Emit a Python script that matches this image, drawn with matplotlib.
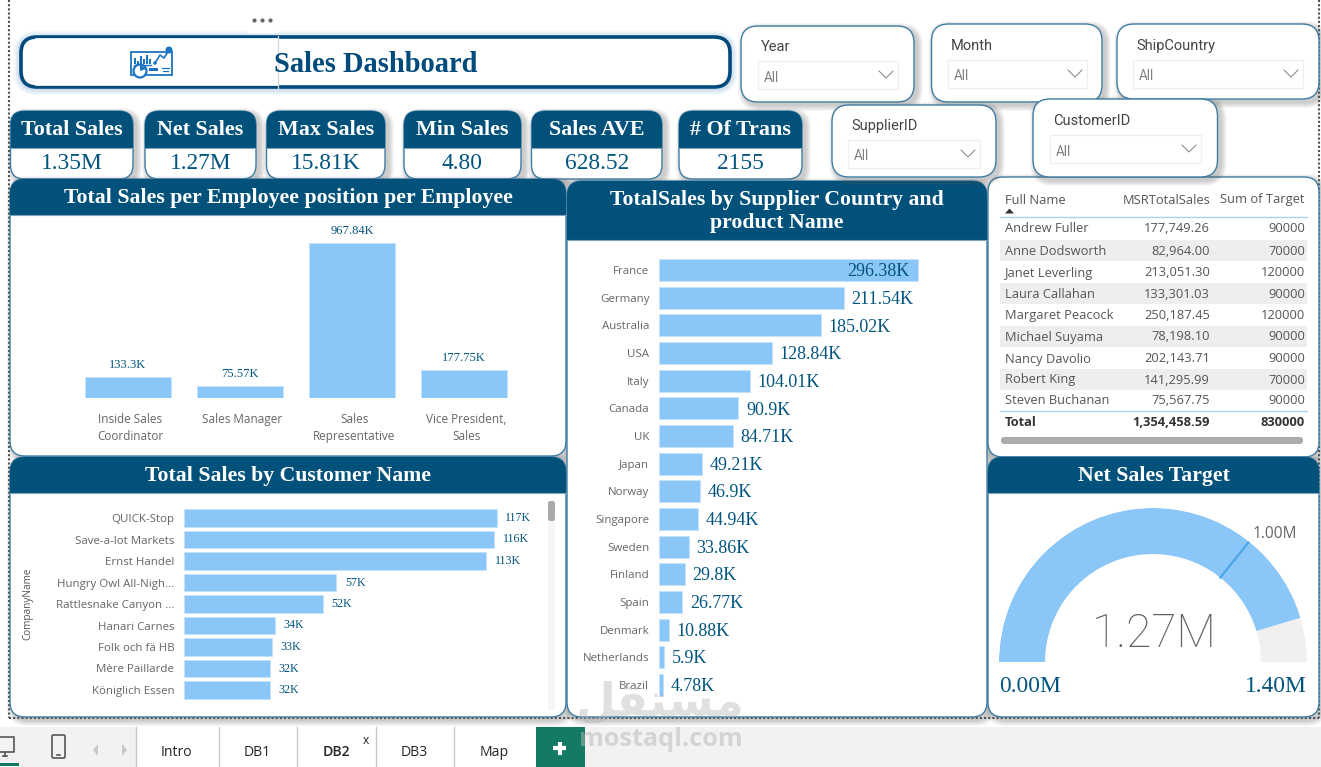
import numpy as np
import matplotlib
matplotlib.use('Agg')
import matplotlib.pyplot as plt
from matplotlib.patches import FancyBboxPatch, Rectangle, Circle, Polygon
from matplotlib.transforms import ScaledTranslation

W, H = 1321, 767

# employee position chart
positions = ['Inside Sales\nCoordinator', 'Sales Manager', 'Sales\nRepresentative', 'Vice President,\nSales']
position_sales = [133.3, 75.57, 967.84, 177.75]
position_labels = ['133.3K', '75.57K', '967.84K', '177.75K']

# supplier country chart
countries = ['France', 'Germany', 'Australia', 'USA', 'Italy', 'Canada', 'UK', 'Japan', 'Norway',
             'Singapore', 'Sweden', 'Finland', 'Spain', 'Denmark', 'Netherlands', 'Brazil']
country_sales = [296.38, 211.54, 185.02, 128.84, 104.01, 90.9, 84.71, 49.21, 46.9,
                 44.94, 33.86, 29.8, 26.77, 10.88, 5.9, 4.78]
country_labels = ['296.38K', '211.54K', '185.02K', '128.84K', '104.01K', '90.9K', '84.71K', '49.21K', '46.9K',
                  '44.94K', '33.86K', '29.8K', '26.77K', '10.88K', '5.9K', '4.78K']

# customer chart
customers = ['QUICK-Stop', 'Save-a-lot Markets', 'Ernst Handel', 'Hungry Owl All-Nigh...', 'Rattlesnake Canyon ...',
             'Hanari Carnes', 'Folk och fä HB', 'Mère Paillarde', 'Königlich Essen']
customer_sales = [117, 116, 113, 57, 52, 34, 33, 32, 32]

# employee table
table_names = ['Andrew Fuller', 'Anne Dodsworth', 'Janet Leverling', 'Laura Callahan', 'Margaret Peacock',
               'Michael Suyama', 'Nancy Davolio', 'Robert King', 'Steven Buchanan']
table_sales = ['177,749.26', '82,964.00', '213,051.30', '133,301.03', '250,187.45',
               '78,198.10', '202,143.71', '141,295.99', '75,567.75']
table_target = ['90000', '70000', '120000', '90000', '120000', '90000', '90000', '70000', '90000']
table_total = ['Total', '1,354,458.59', '830000']

# KPI cards
kpi_titles = ['Total Sales', 'Net Sales', 'Max Sales', 'Min Sales', 'Sales AVE', '# Of Trans']
kpi_values = ['1.35M', '1.27M', '15.81K', '4.80', '628.52', '2155']

# gauge
gauge_value = 1.27
gauge_target = 1.00
gauge_max = 1.40

tab_names = ['Intro', 'DB1', 'DB2', 'DB3', 'Map']

NAVY = '#02517A'
TITLE_NAVY = '#004A7C'
VALUE_BLUE = '#03557F'
BAR = '#8AC6F8'
BAR_EDGE = '#C4E2FB'
GREY = '#666666'
SERIF = 'Liberation Serif'
SANS = 'Open Sans'

fig = plt.figure(figsize=(W / 100, H / 100), dpi=100, facecolor='white')
base = fig.add_axes([0, 0, 1, 1], zorder=0)
base.set_xlim(0, W)
base.set_ylim(H, 0)
base.axis('off')


def px(size):
    # pixel height to font points
    return size * 0.72


def inset(x0, y0, x1, y1):
    ax = fig.add_axes([x0 / W, 1 - y1 / H, (x1 - x0) / W, (y1 - y0) / H], zorder=2)
    ax.patch.set_alpha(0)
    for s in ax.spines.values():
        s.set_visible(False)
    return ax


def rbox(x0, y0, x1, y1, r, **kw):
    p = FancyBboxPatch((x0, y0), x1 - x0, y1 - y0, boxstyle=f'round,pad=0,rounding_size={r}', **kw)
    base.add_patch(p)
    return p


def shadow(x0, y0, x1, y1, r, dx=3, dy=3, color='#555555', n=6, alpha=0.055, z=1):
    for i in range(n, 0, -1):
        rbox(x0 + dx - i, y0 + dy - i, x1 + dx + i, y1 + dy + i, r + i, fc=color, ec='none', alpha=alpha, zorder=z)


def card(x0, y0, x1, y1, r=15, head=None, title=None, title_size=21.8, z=2):
    shadow(x0, y0, x1, y1, r, z=z)
    p = rbox(x0, y0, x1, y1, r, fc='white', ec='#3F7CA3', lw=1.0, zorder=z + 0.1)
    if head is not None:
        rect = Rectangle((x0, y0), x1 - x0, head - y0, fc=NAVY, ec='none', zorder=z + 0.2)
        base.add_patch(rect)
        rect.set_clip_path(p)
        base.plot([x0, x1], [head, head], color='#7FA3BA', lw=0.8, zorder=z + 0.3)
    if title:
        base.text((x0 + x1) / 2, (y0 + head) / 2 + 1, title, ha='center', va='center', color='white',
                  family=SERIF, weight='bold', fontsize=px(title_size), linespacing=1.2, zorder=z + 0.4)


def slicer(x0, y0, x1, y1, name, bx0, by0, bx1, by1):
    card(x0, y0, x1, y1, r=17, z=4)
    base.text(bx0 + 3, by0 - 14, name, ha='left', va='center', color='#444444', family='Roboto',
              fontsize=px(14.6), zorder=5)
    base.add_patch(Rectangle((bx0, by0), bx1 - bx0, by1 - by0, fc='white', ec='#F0F0F0', lw=1, zorder=5))
    base.text(bx0 + 6, (by0 + by1) / 2 + 2.5, 'All', ha='left', va='center', color='#808080', family='Roboto',
              fontsize=px(13.5), zorder=5)
    cx, cy = bx1 - 12, (by0 + by1) / 2
    base.plot([cx - 7, cx, cx + 7], [cy - 4, cy + 3, cy - 4], color='#808080', lw=0.7, zorder=5)


# dotted page border
for xs, ys in [([9, 9], [0, 718]), ([9, 1319], [718, 718]), ([1319, 1319], [0, 718])]:
    base.plot(xs, ys, color='#505050', lw=1.5, ls=(0, (1, 1)), zorder=0.5)

# title banner
shadow(20, 36, 731, 88, 17, dx=0, dy=1, color='#4A90C8', n=6, alpha=0.05)
rbox(21, 37, 730, 87, 16, fc='white', ec=TITLE_NAVY, lw=2.6, zorder=2)
# the left half of the outline runs thinner
base.plot([36, 278], [38.7, 38.7], color='white', lw=1.2, zorder=2.1)
base.plot([36, 278], [85.3, 85.3], color='white', lw=1.2, zorder=2.1)
base.plot([278, 278], [36, 88], color='#D8D8D8', lw=0.9, zorder=2.2)
base.text(274, 64, 'Sales Dashboard', ha='left', va='center', color=TITLE_NAVY, family=SERIF, weight='bold',
          fontsize=px(28.5), zorder=3)
base.add_patch(Rectangle((248, 12), 30, 21, fc='white', ec='none', zorder=2.5))
base.plot([254, 262, 270], [20, 20, 20], ls='none', marker='o', ms=2, color='#666666', zorder=3)

# chart icon on the banner
ICON = '#1B74C2'
base.add_patch(Rectangle((131, 52), 41, 23, fc='white', ec=ICON, lw=1.3, zorder=3))
for bx, bh in zip([134, 137, 140, 143, 146, 149], [6, 3, 8, 5, 9, 5]):
    base.add_patch(Rectangle((bx, 64 - bh), 2.3, bh, fc=ICON, ec='none', zorder=3.1))
base.plot([134, 151], [64.5, 64.5], color=ICON, lw=1, zorder=3.1)
base.plot([155, 160, 164, 169], [63, 55, 58, 50], color=ICON, lw=1.2, zorder=3.1)
base.add_patch(Circle((155, 63), 1.8, fc=ICON, ec='none', zorder=3.2))
base.add_patch(Circle((169, 50), 3.5, fc=ICON, ec='none', zorder=3.2))
base.add_patch(Circle((140, 71), 6.5, fc='white', ec=ICON, lw=1.6, zorder=3.2))
base.add_patch(Polygon([(140, 71), (140, 64.5), (146, 69)], fc=ICON, ec='none', zorder=3.3))
base.add_patch(Rectangle((149, 68), 9, 3, fc=ICON, ec='none', zorder=3.2))
base.plot([162, 169], [68, 68], color=ICON, lw=0.9, zorder=3.2)
base.plot([163, 168], [71, 71], color=ICON, lw=0.9, zorder=3.2)

# KPI cards
kpi_x = [(10.5, 133), (145, 256), (266.5, 385), (404, 521), (531.5, 662), (679, 802)]
for (x0, x1), t, v in zip(kpi_x, kpi_titles, kpi_values):
    card(x0, 111, x1, 179, r=14, head=148, z=2)
    base.text((x0 + x1) / 2, 130, t, ha='center', va='center', color='white', family=SERIF, weight='bold',
              fontsize=px(22), zorder=3)
    base.text((x0 + x1) / 2, 163.5, v, ha='center', va='center', color=VALUE_BLUE, family=SERIF,
              fontsize=px(23.5), zorder=3)

# slicers
slicer(741, 26, 914, 102, 'Year', 757.5, 61, 898, 89)
slicer(931.5, 24, 1102, 102, 'Month', 948, 60, 1087, 88)
slicer(1117, 24, 1319, 99, 'ShipCountry', 1133, 60, 1303, 88)
slicer(832, 105, 996, 177, 'SupplierID', 848, 140, 980, 168)
slicer(1033, 99, 1217.5, 177, 'CustomerID', 1050, 135, 1201, 163)

# panels
card(10, 179, 566, 456, head=215, title='Total Sales per Employee position per Employee', z=2.6)
card(10, 457, 566, 717, head=493, title='Total Sales by Customer Name', z=2.6)
card(567, 181, 987, 717, head=240, title='TotalSales by Supplier Country and\nproduct Name', z=2.6)
card(988, 177, 1319, 457, z=2.6)
card(988, 457, 1319, 717, head=493, title='Net Sales Target', z=2.6)

# employee position columns
ax1 = inset(72, 220, 520, 398)
ax1.bar(range(len(positions)), position_sales, width=0.77, color=BAR, edgecolor=BAR_EDGE, linewidth=0.7)
ax1.set_xlim(-0.5, 3.5)
ax1.set_ylim(0, 178 / 155 * 967.84)
ax1.set_yticks([])
ax1.set_xticks(range(len(positions)))
ax1.set_xticklabels(positions, family=SANS, fontsize=px(11.7), color=GREY, linespacing=1.42)
ax1.tick_params(axis='x', length=0, pad=11)
nudge = ScaledTranslation(2.5 / 100, 0, fig.dpi_scale_trans)
for lab in ax1.get_xticklabels():
    lab.set_transform(lab.get_transform() + nudge)
for c in ax1.containers:
    ax1.bar_label(c, labels=position_labels, padding=4, family=SERIF, fontsize=px(12.5), color=VALUE_BLUE)

# supplier country bars
ax2 = inset(659, 256.2, 987, 698.8)
bars2 = ax2.barh(range(len(countries)), country_sales, height=0.8, color=BAR, edgecolor=BAR_EDGE, linewidth=0.7)
ax2.set_xlim(0, 328 / (259 / 296.38))
ax2.set_ylim(15.5, -0.5)
ax2.set_xticks([])
ax2.set_yticks(range(len(countries)))
ax2.set_yticklabels(countries, family=SANS, fontsize=px(11.5), color=GREY)
ax2.tick_params(axis='y', length=0, pad=7)
for i, lab in enumerate(country_labels):
    # the longest bar keeps its label inside the end
    off, ha = (-6, 'right') if i == 0 else (5.5, 'left')
    ax2.annotate(lab, (country_sales[i], i), xytext=(off, -1.2), textcoords='offset points', ha=ha, va='center',
                 family=SERIF, fontsize=px(18), color=VALUE_BLUE)

# customer bars
ax3 = inset(184, 507.25, 545, 700.75)
bars3 = ax3.barh(range(len(customers)), customer_sales, height=0.8, color=BAR, edgecolor=BAR_EDGE, linewidth=0.7)
ax3.set_xlim(0, 361 / 2.675)
ax3.set_ylim(8.5, -0.5)
ax3.set_xticks([])
ax3.set_yticks(range(len(customers)))
ax3.set_yticklabels(customers, family=SANS, fontsize=px(11.5), color=GREY)
ax3.tick_params(axis='y', length=0, pad=7)
ax3.bar_label(bars3, labels=[f'{v}K' for v in customer_sales], padding=6, family=SERIF, fontsize=px(12),
              color=VALUE_BLUE)
base.text(28, 604, 'CompanyName', rotation=90, ha='center', va='center', family=SANS, fontsize=px(10),
          color='#555555', zorder=4)
base.add_patch(Rectangle((548, 501), 7, 209, fc='#F6F6F6', ec='none', zorder=4))
rbox(548, 501, 555, 521, 2.5, fc='#AAAAAA', ec='none', zorder=4.1)

# employee table
col_left, col_sales, col_target = 1005, 1210, 1305
row_y = [228, 250.5, 272, 293, 314.5, 336, 358, 379, 400]
table_font = dict(family=SANS, fontsize=px(12.9), color='#555555', va='center', zorder=4)
base.text(col_left, 200, 'Full Name', ha='left', **table_font)
base.text(col_sales, 200, 'MSRTotalSales', ha='right', **table_font)
base.text(col_target, 200, 'Sum of Target', ha='right', **table_font)
base.add_patch(Polygon([(1005, 213.5), (1014, 213.5), (1009.5, 208.5)], fc='#333333', ec='none', zorder=4))
base.plot([1000, 1307], [217, 217], color='#A6D3F7', lw=1, zorder=4)
for i, y in enumerate(row_y):
    if i % 2 == 1:
        base.add_patch(Rectangle((1000, y - 10.5), 307, 21, fc='#EEEEEE', ec='none', zorder=3.5))
    base.text(col_left, y + 1, table_names[i], ha='left', **table_font)
    base.text(col_sales, y + 1, table_sales[i], ha='right', **table_font)
    base.text(col_target, y + 1, table_target[i], ha='right', **table_font)
base.plot([1000, 1307], [410.5, 410.5], color='#A6D3F7', lw=1, zorder=4)
bold_font = dict(table_font, weight='bold', color='#333333')
base.text(col_left, 422, table_total[0], ha='left', **bold_font)
base.text(col_sales, 422, table_total[1], ha='right', **bold_font)
base.text(col_target, 422, table_total[2], ha='right', **bold_font)
rbox(1001, 437, 1303, 444, 3, fc='#ABABAB', ec='none', zorder=4)

# gauge, a half ring on polar axes centred at (1153, 662)
R_OUT, R_IN = 154, 108
ax4 = fig.add_axes([(1153 - R_OUT) / W, 1 - (662 + R_OUT) / H, 2 * R_OUT / W, 2 * R_OUT / H],
                   projection='polar', zorder=2)
ax4.patch.set_alpha(0)
ax4.axis('off')


def to_theta(v):
    return np.pi * (1 - v / gauge_max)


th_val = to_theta(gauge_value)
ax4.bar(np.pi / 2, R_OUT - R_IN, width=np.pi, bottom=R_IN, color='#F1F0EF', linewidth=0)
ax4.bar((np.pi + th_val) / 2, R_OUT - R_IN, width=np.pi - th_val, bottom=R_IN, color=BAR, linewidth=0)
ax4.plot([to_theta(gauge_target)] * 2, [R_IN, R_OUT], color='#4DA6E8', lw=1.6)
ax4.set_rlim(0, R_OUT)
base.text(1275, 534.5, '1.00M', ha='center', va='center', family=SANS, fontsize=px(15.5), color=GREY, zorder=4)
base.text(1154, 634, '1.27M', ha='center', va='center', family='Roboto', weight='light',
          fontsize=px(46), color='#605E5C', zorder=4)
base.text(999, 686, '0.00M', ha='left', va='center', family=SERIF, fontsize=px(23.5), color=VALUE_BLUE, zorder=4)
base.text(1307, 686, '1.40M', ha='right', va='center', family=SERIF, fontsize=px(23.5), color=VALUE_BLUE, zorder=4)

# tab strip
base.add_patch(Rectangle((0, 727), W, 40, fc='#F3F2F1', ec='none', zorder=1))
base.add_patch(Rectangle((135.5, 727), 400, 40, fc='white', ec='none', zorder=1.1))
for x in [135.5, 218.5, 296.5, 375.5, 453.5]:
    base.plot([x, x], [727, 767], color='#C8C8C8', lw=1, zorder=1.2)
for name, x in zip(tab_names, [176, 257, 336, 414, 494]):
    base.text(x, 752.5, name, ha='center', va='center', family=SANS, fontsize=px(14), color='#252423',
              weight='semibold' if name == 'DB2' else 'normal', zorder=2)
base.text(366, 740, 'x', ha='center', va='center', family=SANS, fontsize=px(12), color='#252423', zorder=2)
base.add_patch(Rectangle((535.5, 727), 49, 40, fc='#147A63', ec='none', zorder=1.3))
base.plot([553, 566], [748, 748], color='white', lw=3, zorder=2, solid_capstyle='butt')
base.plot([559.5, 559.5], [741.5, 754.5], color='white', lw=3, zorder=2, solid_capstyle='butt')

# device icons and scroll arrows
base.plot([0, 14, 14, 0], [737, 737, 752, 752], color='#555555', lw=1.2, zorder=2)
base.plot([3, 7], [756, 756], color='#555555', lw=1.2, zorder=2)
base.plot([5, 5], [752, 756], color='#555555', lw=1.2, zorder=2)
base.add_patch(Rectangle((0, 763), 19, 3, fc='#147A63', ec='none', zorder=2))
rbox(52, 735, 65, 758, 1.5, fc='#F3F2F1', ec='#555555', lw=1.2, zorder=2)
base.plot([57, 60], [754.5, 754.5], color='#555555', lw=1.2, zorder=2.1)
base.add_patch(Polygon([(98, 744), (93, 750), (98, 756)], fc='#C8C8C8', ec='none', zorder=2))
base.add_patch(Polygon([(122, 744), (127, 750), (122, 756)], fc='#C8C8C8', ec='none', zorder=2))

# watermark above all charts
fig.text(660 / W, 1 - 703 / H, '\ufede\ufed8\ufe98\ufeb4\ufee3', ha='center', va='center', family='DejaVu Sans',
         weight='bold', fontsize=px(46), color='#B0B0B0', alpha=0.38, zorder=5)
fig.text(661 / W, 1 - 739 / H, 'mostaql.com', ha='center', va='center', family='Open Sans', weight='bold',
         fontsize=px(25.2), color='#B8B8B8', alpha=0.5, zorder=5)

fig.savefig('out.png', dpi=100)
